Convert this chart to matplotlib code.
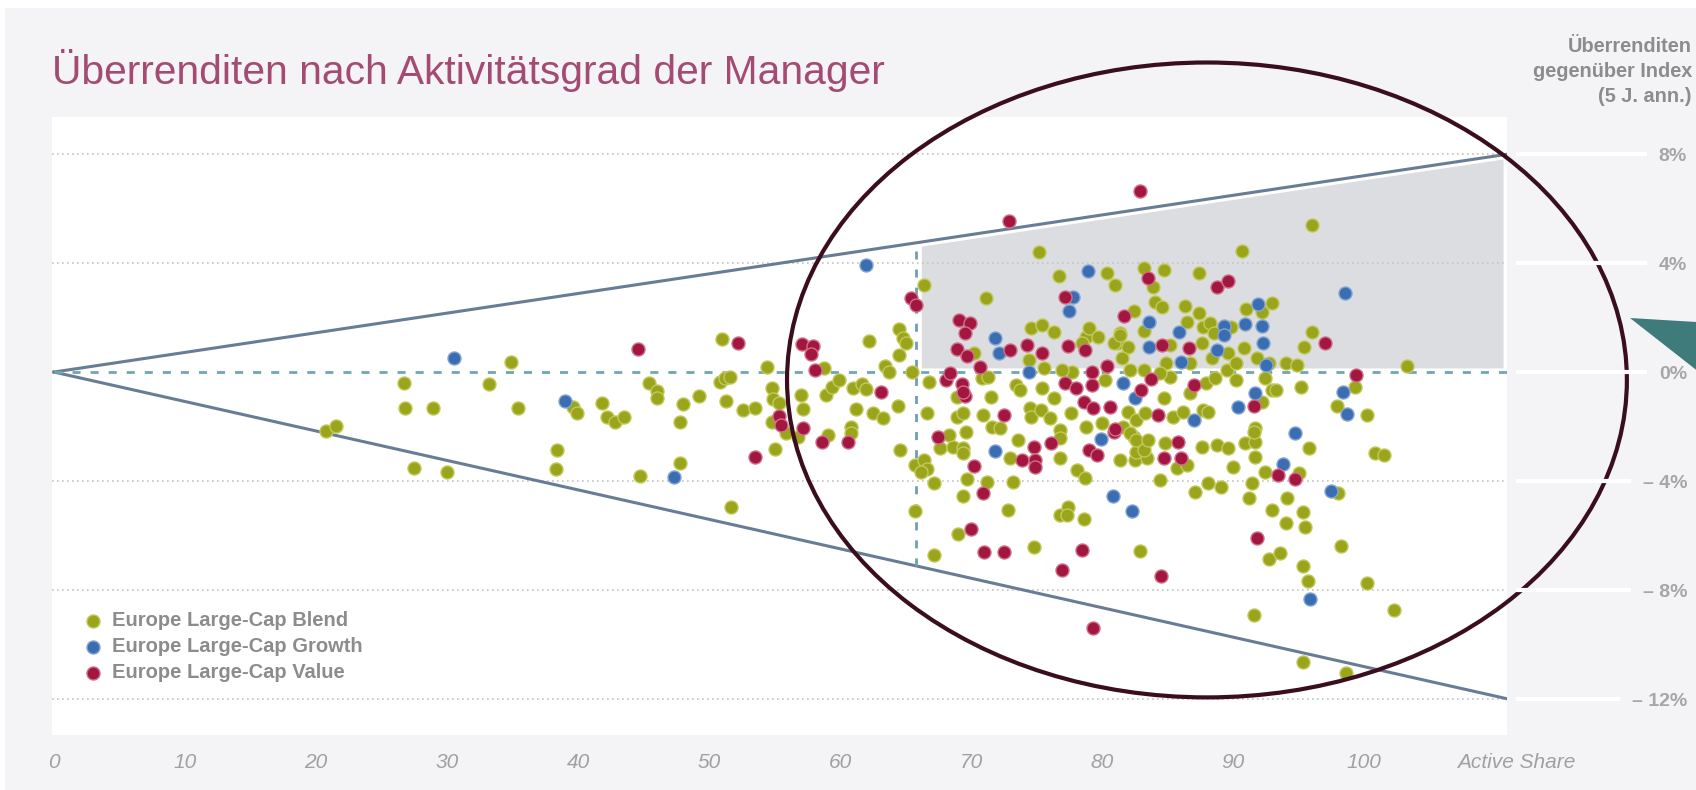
import numpy as np
import matplotlib
matplotlib.use("Agg")
import matplotlib.pyplot as plt
from matplotlib.patches import Ellipse, Polygon, Rectangle
from matplotlib.lines import Line2D

plt.rcParams['font.family'] = ['Liberation Sans', 'DejaVu Sans']

# Active Share (x) und Überrendite in % (y)
blend = np.array([
    (20.8, -2.17), (21.5, -1.97), (26.7, -0.42), (26.8, -1.31), (28.9, -1.31), (27.5, -3.53),
    (30.0, -3.66), (33.2, -0.44), (34.9, 0.37), (35.4, -1.33), (38.4, -2.86), (38.3, -3.57),
    (39.6, -1.27), (39.9, -1.52), (41.8, -1.15), (42.2, -1.66), (42.8, -1.82), (43.5, -1.66),
    (44.7, -3.80), (45.4, -0.39), (46.0, -0.69), (46.0, -0.97), (47.8, -1.85), (47.8, -3.35),
    (48.0, -1.17), (49.2, -0.88),
    (51.0, 1.2), (50.8, -0.36), (51.2, -0.23), (51.6, -0.17), (51.3, -1.06), (51.7, -4.94),
    (52.6, -1.39), (53.5, -1.33), (54.4, 0.2), (54.8, -0.6), (54.9, -1.0), (55.3, -1.15),
    (54.8, -1.82), (55.9, -2.25), (55.0, -2.83), (57.0, -0.84), (57.2, -1.37), (56.8, -2.37),
    (58.8, 0.16), (59.1, -2.31), (58.9, -0.84), (59.4, -0.54), (59.9, -0.29), (61.0, -0.6),
    (61.7, -0.44), (62.0, -0.63), (61.2, -1.37), (62.5, -1.49), (63.3, -1.70), (60.8, -2.0),
    (60.8, -2.23), (62.2, 1.14), (63.4, 0.22), (63.7, 0.01), (64.5, 1.57), (64.8, 1.24),
    (65.0, 1.05), (64.5, 0.62), (65.5, 0.01), (64.4, -1.24), (64.6, -2.86), (65.7, -3.41),
    (65.7, -5.09), (66.4, 3.19), (66.8, -0.36), (66.6, -1.49), (66.4, -3.23), (66.6, -3.57),
    (66.2, -3.66), (67.2, -4.08), (67.2, -6.72), (68.3, -2.31), (67.6, -2.8), (68.6, -2.74),
    (69.4, -2.8), (69.4, -2.98), (69.6, -2.21), (68.9, -1.64), (69.4, -1.52), (68.9, -0.91),
    (69.7, -3.94), (69.4, -4.55), (69.0, -5.93),
    (70.2, 0.7), (70.8, -0.23), (71.3, -0.17), (71.1, 2.73), (71.5, -0.91), (70.9, -1.58),
    (71.6, -2.0), (72.2, -2.07), (71.2, -4.03), (72.8, -5.06), (73.2, -4.03), (73.0, -3.17),
    (73.6, -2.5), (73.4, -0.48), (73.7, -0.66), (74.4, 0.44), (74.6, 1.6), (75.4, 1.72),
    (76.3, 1.48), (75.6, 0.14), (75.4, -0.6), (76.3, -0.97), (74.5, -1.33), (74.6, -1.64),
    (75.3, -1.39), (76.8, -2.13), (77.7, 0.01),
    (76.0, -1.70), (74.8, -6.41), (75.2, 4.39), (76.7, 3.52), (76.9, 0.07), (77.6, -1.52),
    (76.8, -2.43), (76.8, -3.17), (76.8, -5.25), (77.4, -4.94), (77.3, -5.25), (78.1, -3.6),
    (78.7, -3.9), (78.6, -5.41), (78.8, 1.3), (79.0, 1.6), (79.7, 1.3), (78.5, 1.05),
    (78.8, -2.0), (80.4, 3.64), (81.0, 3.19), (80.2, -0.29), (81.4, 1.42), (81.2, 1.05),
    (80.9, 1.05), (81.4, 1.36), (80.0, -1.88),
    (82.0, 0.93), (81.5, 0.5), (82.0, -1.46), (82.6, -1.76), (81.6, -2.0), (81.4, -3.23),
    (82.5, -3.23), (82.6, -2.92), (83.4, -3.17), (82.4, -2.37), (83.2, -2.68), (82.4, 2.24),
    (82.1, 0.07), (82.1, -2.25), (82.6, -2.5), (83.2, -2.86), (83.5, -2.5), (83.3, -1.52),
    (83.2, 1.5), (83.2, 3.83), (83.9, 3.13), (84.7, 3.74), (84.0, 2.58), (84.6, 2.40),
    (83.2, 0.07), (82.9, -6.57), (85.2, 0.99), (84.9, 0.32), (85.2, -0.17), (84.7, -0.97),
    (84.4, -0.05),
    (85.4, -1.64), (86.2, -1.46), (84.8, -2.62), (85.7, -3.53), (86.5, -3.41), (84.4, -3.96),
    (86.3, 2.42), (86.5, 1.85), (86.7, -0.77), (87.4, 2.15), (87.4, 3.62), (87.1, -4.39),
    (87.6, 1.05), (86.7, 0.32), (87.9, -0.42), (87.7, -1.39),
    (87.7, 1.66), (88.2, 1.79), (88.5, 1.42), (88.4, 0.5), (88.6, -0.23), (88.1, -1.46),
    (87.6, -2.74), (88.8, -2.68), (88.1, -4.09), (89.8, 1.66), (89.6, 0.69), (89.5, 0.07),
    (89.6, -2.8), (89.1, -4.21), (90.2, 0.32), (90.2, -0.29), (90.0, -3.47), (90.7, 4.44),
    (90.8, 0.89), (91.0, 2.3), (90.9, -2.62), (91.8, 0.5), (92.2, 2.21), (92.4, -0.23),
    (92.2, -1.09), (91.7, -2.07), (91.7, -2.56), (91.6, -2.19), (91.7, -3.11), (91.4, -4.09),
    (91.2, -4.64), (91.6, -8.92), (92.7, 0.32), (93.0, 2.54), (93.0, -0.66), (93.3, -0.66),
    (92.4, -3.66), (93.0, -5.06), (92.7, -6.86), (93.6, -6.65), (94.0, 0.32), (94.9, 0.26),
    (95.2, -0.54), (95.0, -3.72), (94.1, -4.61), (94.0, -5.53), (95.4, 0.93), (96.0, 1.48),
    (96.0, 5.39), (95.8, -2.8), (95.3, -5.13), (95.5, -5.70), (95.3, -7.12), (95.7, -7.67),
    (95.3, -10.63), (97.9, -1.25), (98.0, -4.43), (98.2, -6.39), (98.6, -11.06), (99.3, -0.54),
    (100.2, -1.58), (100.2, -7.76), (100.8, -2.98), (101.5, -3.05), (102.3, -8.73), (103.3, 0.22),
])

growth = np.array([
    (30.5, 0.52), (39.0, -1.08), (47.3, -3.84), (62.0, 3.93), (71.8, 1.26), (72.1, 0.69),
    (71.8, -2.9), (74.4, 0.01), (77.8, 2.76), (77.5, 2.25), (78.9, 3.71), (79.9, -2.47),
    (80.8, -4.55), (81.6, -0.39), (82.5, -0.97), (82.3, -5.09), (83.6, 1.82), (83.6, 0.93),
    (85.9, 1.48), (86.0, 0.38), (87.0, -1.76), (88.8, 0.81), (89.3, 1.69), (89.3, 1.36),
    (90.9, 1.75), (90.4, -1.30), (91.9, 2.48), (92.2, 1.69), (92.3, 1.08), (92.5, 0.26),
    (91.7, -0.78), (93.8, -3.39), (94.7, -2.25), (95.9, -8.33), (97.5, -4.37), (98.5, 2.89),
    (98.4, -0.72), (98.7, -1.55),
])

value = np.array([
    (44.6, 0.86), (52.2, 1.05), (53.5, -3.11), (55.3, -1.61), (55.5, -1.94), (57.1, 1.02),
    (57.9, 0.95), (57.8, 0.65), (58.1, 0.07), (57.2, -2.04), (58.6, -2.56), (60.6, -2.56),
    (63.1, -0.72), (65.4, 2.70), (65.8, 2.46), (67.5, -2.37), (68.1, -0.29), (68.4, -0.05),
    (69.1, 1.91), (69.9, 1.79), (69.5, 1.42), (68.9, 0.83), (69.7, 0.59), (69.3, -0.44),
    (69.5, -0.88), (69.4, -0.72), (70.2, -3.45), (70.0, -5.77), (70.7, 0.2), (70.9, -4.43),
    (71.0, -6.59), (72.5, -6.59), (72.5, -1.58), (72.9, 5.55), (73.0, 0.81), (73.9, -3.23),
    (74.3, 0.99), (74.8, -2.74), (74.9, -3.23), (74.9, -3.47), (75.4, 0.69), (76.1, -2.62),
    (76.9, -7.27), (77.2, 2.76), (77.4, 0.95), (77.2, -0.42), (78.0, -0.6), (78.7, 0.81),
    (78.6, -1.09), (78.5, -6.53), (79.2, 0.01), (79.2, -0.48), (79.3, -1.33), (79.0, -2.86),
    (79.6, -3.05), (79.3, -9.38), (80.4, 0.22), (80.6, -1.30), (80.9, -2.19), (81.7, 2.07),
    (81.0, -2.1), (82.9, 6.64), (83.5, 3.44), (83.7, -0.27), (83.0, -0.66), (84.6, 0.99),
    (84.3, -1.58), (84.7, -3.17), (84.5, -7.47), (85.8, -2.56), (86.0, -3.17), (86.6, 0.87),
    (87.0, -0.48), (88.8, 3.13), (89.6, 3.35), (91.6, -1.25), (91.8, -6.10), (93.4, -3.76),
    (94.7, -3.94), (97.0, 1.05), (99.4, -0.11),
])

serien = ["Europe Large-Cap Blend", "Europe Large-Cap Growth", "Europe Large-Cap Value"]
farben = ["#9aa51c", "#3b6db2", "#a3163f"]
kanten = ["#c3ca5c", "#86a6d4", "#d0708c"]

ytick_werte = [8, 4, 0, -4, -8, -12]
ytick_texte = ["8%", "4%", "0%", "– 4%", "– 8%", "– 12%"]
xtick_werte = [0, 10, 20, 30, 40, 50, 60, 70, 80, 90, 100]

xmax = 111.0        # Ende der Trichterlinien
obere_grenze = 8    # obere Linie endet bei 8%
untere_grenze = -12 # untere Linie endet bei -12%
schwelle = 65.8     # senkrechte Linie (Active Share ~66)

W, H = 1696, 790
fig = plt.figure(figsize=(W / 100, H / 100), dpi=100)
fig.patch.set_facecolor("white")
# hellgrauer Hintergrund
fig.patches.append(Rectangle((5 / W, 0), 1, 1 - 8 / H, transform=fig.transFigure,
                             facecolor="#f4f4f6", edgecolor="none", zorder=-10))

ax = fig.add_axes([52 / W, 1 - 735 / H, (1507 - 52) / W, (735 - 117) / H])
ax.set_facecolor("white")
ax.set_xlim(-0.15, 110.9)
ax.set_ylim(-13.32, 9.36)
for s in ax.spines.values():
    s.set_visible(False)

# gepunktete Gitterlinien
for v in ytick_werte:
    if v != 0:
        ax.axhline(v, color="#c4c4c4", lw=1.2, ls=(0, (1, 2)), zorder=1)

# grauer Bereich oben rechts
xs = np.array([66.2, 110.6])
ax.fill_between(xs, 0.15, obere_grenze * xs / xmax - 0.15, color="#dcdde1", lw=0, zorder=0.5)

# Trichterlinien
ax.plot([0, xmax], [0, obere_grenze], color="#687d95", lw=2.2, zorder=2)
ax.plot([0, xmax], [0, untere_grenze], color="#687d95", lw=2.2, zorder=2)

# gestrichelte Linien
ax.plot([0, 110.9], [0, 0], color="#6ea6b6", lw=2, ls=(0, (2.9, 3.6)), zorder=2)
ax.plot([schwelle, schwelle], [untere_grenze * schwelle / xmax, obere_grenze * schwelle / xmax - 0.1],
        color="#6e9fb8", lw=2, ls=(0, (2.9, 3.6)), zorder=2)

# Punkte
for daten, name, fc, ec in zip([blend, growth, value], serien, farben, kanten):
    ax.scatter(daten[:, 0], daten[:, 1], s=88, color=fc, edgecolor=ec, lw=1, label=name, zorder=3)

# Ellipse
ax.add_patch(Ellipse((88.0, -0.29), 64.1, 23.3, fill=False, ec="#3a0e1d", lw=3, clip_on=False, zorder=6))

# Achsen
ax.set_xticks(xtick_werte)
ax.set_xticklabels([str(v) for v in xtick_werte], fontstyle="italic", fontsize=15, color="#a0a0a0")
ax.tick_params(axis="x", length=0, pad=13)
ax.yaxis.tick_right()
ax.set_yticks(ytick_werte)
ax.set_yticklabels(ytick_texte, fontsize=14, fontweight="bold", color="#a6a6a6")
ax.tick_params(axis="y", length=0, pad=129.6)
for lab in ax.get_yticklabels():
    lab.set_ha("right")

leg = ax.legend(loc="upper left", bbox_to_anchor=(83 / W, 1 - 611 / H), bbox_transform=fig.transFigure,
                frameon=False, borderaxespad=0, borderpad=0, handlelength=1.0, handletextpad=0.45,
                labelspacing=0.36, scatterpoints=1, prop={"size": 14.5, "weight": "bold"})
for t in leg.get_texts():
    t.set_color("#8c8c8c")

# Titel und Achsenbeschriftung rechts
fig.text(52 / W, 1 - 84 / H, "Überrenditen nach Aktivitätsgrad der Manager", fontsize=29.3,
         color="#a34b73", ha="left", va="baseline")
for txt, yb in zip(["Überrenditen", "gegenüber Index", "(5 J. ann.)"], [52, 77, 102]):
    fig.text(1692 / W, 1 - yb / H, txt, fontsize=14.3, fontweight="bold", color="#8c8c8c",
             ha="right", va="baseline")

# Pfeilspitze rechts
fig.patches.append(Polygon([(1630 / W, 1 - 318 / H), (1.01, 1 - 323 / H), (1.01, 1 - 383 / H)],
                           closed=True, transform=fig.transFigure, facecolor="#3f7b7b",
                           edgecolor="none", zorder=5))

fig.canvas.draw()
renderer = fig.canvas.get_renderer()

# weiße Linien im grauen Rand bis zu den Prozentangaben
for lab, v in zip(ax.get_yticklabels(), ytick_werte):
    bb = lab.get_window_extent(renderer)
    y_pix = ax.transData.transform((0, v))[1]
    fig.lines.append(Line2D([1518 / W, (bb.x0 - 14) / W], [y_pix / H, y_pix / H],
                            transform=fig.transFigure, color="white", lw=3, zorder=1))

bb = ax.get_xticklabels()[-1].get_window_extent(renderer)
fig.text(1516 / W, (bb.y0 + bb.y1) / 2 / H, "Active Share", fontsize=15, fontstyle="italic",
         color="#a0a0a0", ha="center", va="center")

fig.savefig("out.png", dpi=100, facecolor=fig.get_facecolor())
